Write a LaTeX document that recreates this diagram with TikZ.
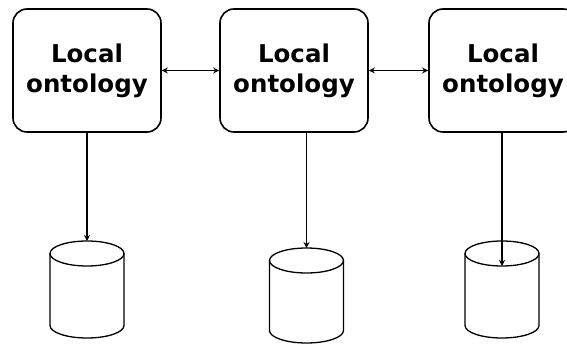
\documentclass[tikz,border=0pt]{standalone}
\usepackage{fontspec}
\setsansfont{DejaVu Sans}
\usetikzlibrary{arrows.meta}
\begin{document}
\begin{tikzpicture}[x=1pt,y=-1pt,
  onto/.style={draw, line width=1.6pt, rounded corners=14pt,
    minimum width=148pt, minimum height=123pt, inner sep=0pt,
    align=center, font=\sffamily\bfseries\fontsize{24.5}{30}\selectfont},
  link/.style={line width=1.3pt, -{Stealth[length=6pt,width=6pt]}},
  both/.style={line width=1.3pt, {Stealth[length=6pt,width=6pt]}-{Stealth[length=6pt,width=6pt]}},
  cyl/.style={line width=1.3pt}]
\useasboundingbox (0,0) rectangle (567,344);
\clip (0,0) rectangle (567,344);

% ontology boxes
\node[onto] (b1) at (87,70.5)  {Local\\ontology};
\node[onto] (b2) at (294,70.5) {Local\\ontology};
\node[onto] (b3) at (503,70.5) {Local\\ontology};

% data stores: rx = 37, ry = 12.5
\foreach \cx/\ty/\by/\nm in {87/253.5/325.5/c1, 306.5/260.5/330.5/c2, 502/253.5/325.5/c3}{
  \draw[cyl] (\cx,\ty) ellipse [x radius=37, y radius=12.5];
  \draw[cyl] (\cx-37,\ty) -- (\cx-37,\by)
    arc[start angle=180, end angle=0, x radius=37, y radius=12.5] -- (\cx+37,\ty);
  \coordinate (\nm) at (\cx,\ty-12.5);
}
\coordinate (c3front) at (502,266);

% peer links
\draw[both] (b1.east) -- (b2.west);
\draw[both] (b2.east) -- (b3.west);

% box to store
\draw[link] (b1.south -| c1) -- (c1);
\draw[link] (b2.south -| c2) -- (c2);
\draw[link, line width=1.8pt] (b3.south -| c3front) -- (c3front);
\end{tikzpicture}
\end{document}
